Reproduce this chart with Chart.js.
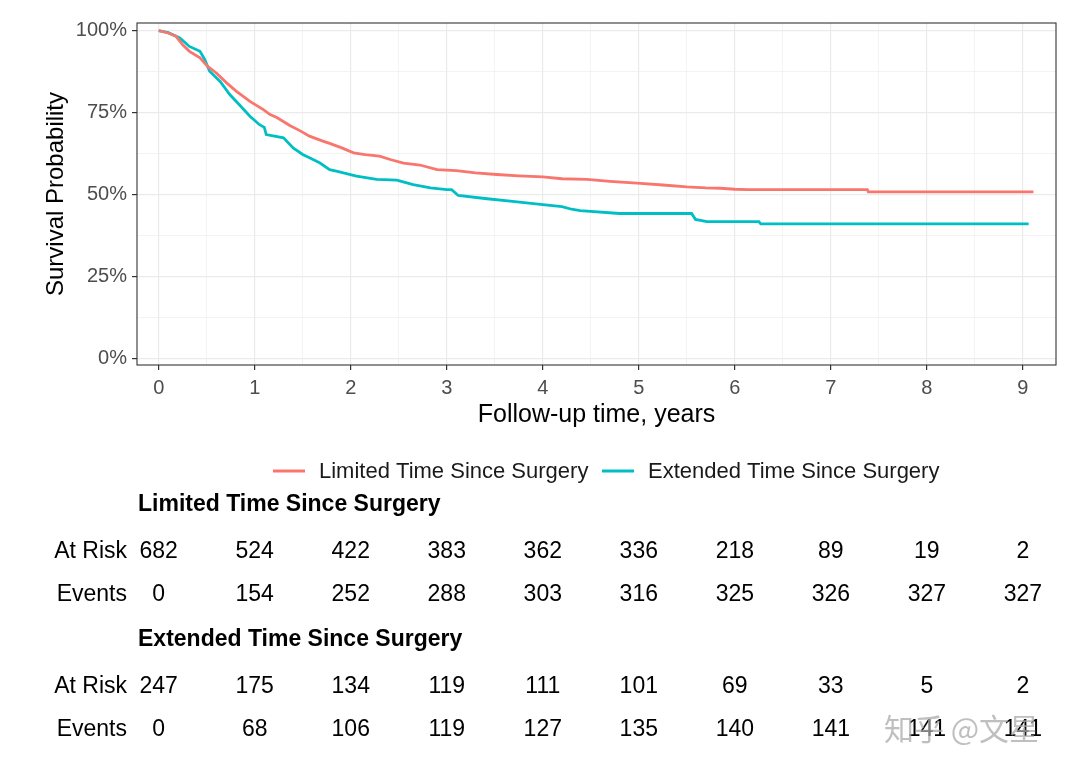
<!DOCTYPE html>
<html>
<head>
<meta charset="utf-8">
<title>Survival by time since surgery</title>
<script src="https://cdn.jsdelivr.net/npm/chart.js@4.4.1/dist/chart.umd.min.js"></script>
<style>
    html, body { margin: 0; padding: 0; background: #ffffff; }
    #wrap { width: 1080px; height: 771px; position: relative; }
</style>
</head>
<body>
<div id="wrap"><canvas id="kmChart"></canvas></div>
<script>
// Kaplan-Meier estimates (time in years, survival in %)
// a repeated time marks a visible drop in the curve
const limitedTime = [0, 0.1, 0.18, 0.25, 0.32, 0.43, 0.51, 0.6, 0.71, 0.81, 0.95, 1.09, 1.16, 1.23, 1.37, 1.47, 1.57, 1.71, 1.78, 1.9, 2.03, 2.15, 2.3, 2.42, 2.55, 2.72, 2.9, 3.1, 3.3, 3.52, 3.75, 4.0, 4.2, 4.46, 4.7, 5.02, 5.25, 5.5, 5.7, 5.85, 6.0, 6.13, 7.38, 7.39, 9.11];
const limitedSurv = [100, 99.3, 98.3, 95.7, 93.7, 91.7, 89.1, 87.1, 84.0, 81.5, 78.4, 75.9, 74.4, 73.5, 71.0, 69.5, 67.8, 66.3, 65.6, 64.3, 62.7, 62.2, 61.7, 60.6, 59.6, 59.0, 57.6, 57.3, 56.6, 56.1, 55.7, 55.4, 54.8, 54.6, 54.0, 53.4, 52.9, 52.3, 52.0, 51.9, 51.6, 51.5, 51.5, 50.8, 50.8];

const extendedTime = [0, 0.1, 0.22, 0.32, 0.43, 0.48, 0.53, 0.64, 0.74, 0.84, 0.95, 1.05, 1.1, 1.12, 1.3, 1.4, 1.5, 1.57, 1.68, 1.78, 1.85, 2.06, 2.27, 2.48, 2.65, 2.83, 3.0, 3.05, 3.12, 3.42, 3.66, 4.0, 4.2, 4.3, 4.39, 4.8, 5.55, 5.59, 5.71, 6.25, 6.27, 9.06];
const extendedSurv = [100, 99.4, 97.8, 95.2, 93.7, 91.2, 87.6, 84.5, 80.5, 77.4, 73.9, 71.3, 70.5, 68.3, 67.3, 64.2, 62.2, 61.2, 59.6, 57.6, 57.1, 55.6, 54.6, 54.4, 53.0, 52.0, 51.5, 51.5, 49.7, 48.7, 48.0, 46.9, 46.3, 45.5, 45.1, 44.2, 44.2, 42.4, 41.7, 41.7, 41.0, 41.0];

// Axes
const yearTicks = [0, 1, 2, 3, 4, 5, 6, 7, 8, 9];
const percentTicks = [0, 25, 50, 75, 100];
const percentLabels = ['0%', '25%', '50%', '75%', '100%'];

// Risk table
const groupNames = ['Limited Time Since Surgery', 'Extended Time Since Surgery'];
const limitedAtRisk = [682, 524, 422, 383, 362, 336, 218, 89, 19, 2];
const limitedEvents = [0, 154, 252, 288, 303, 316, 325, 326, 327, 327];
const extendedAtRisk = [247, 175, 134, 119, 111, 101, 69, 33, 5, 2];
const extendedEvents = [0, 68, 106, 119, 127, 135, 140, 141, 141, 141];

const RED = '#F8766D';
const CYAN = '#00BFC4';
const FONT = '"Liberation Sans", Arial, sans-serif';

function toPoints(xs, ys) {
    return xs.map((x, i) => ({ x: x, y: ys[i] }));
}

// major ticks plus half-way minor lines
const xAllTicks = [];
yearTicks.forEach(v => { xAllTicks.push(v); xAllTicks.push(v + 0.5); });
const yAllTicks = [];
percentTicks.forEach((v, i) => { yAllTicks.push(v); if (i < percentTicks.length - 1) yAllTicks.push(v + 12.5); });

// Panel border, legend and the number-at-risk table
const extrasPlugin = {
    id: 'extras',
    afterDatasetsDraw(chart) {
        const ctx = chart.ctx;
        const a = chart.chartArea;
        ctx.save();
        ctx.strokeStyle = '#333333';
        ctx.lineWidth = 1.1;
        ctx.strokeRect(a.left, a.top, a.right - a.left, a.bottom - a.top);
        ctx.restore();
    },
    afterDraw(chart) {
        const ctx = chart.ctx;
        const xs = chart.scales.x;
        ctx.save();

        // legend
        ctx.font = '22px ' + FONT;
        ctx.textBaseline = 'middle';
        ctx.textAlign = 'left';
        const legY = 471;
        const items = [
            { color: RED, label: groupNames[0], x: 273 },
            { color: CYAN, label: groupNames[1], x: 602 }
        ];
        items.forEach(it => {
            ctx.strokeStyle = it.color;
            ctx.lineWidth = 3;
            ctx.beginPath();
            ctx.moveTo(it.x, legY);
            ctx.lineTo(it.x + 32, legY);
            ctx.stroke();
            ctx.fillStyle = '#1a1a1a';
            ctx.fillText(it.label, it.x + 46, legY + 1);
        });

        // table
        const blocks = [
            { title: groupNames[0], titleY: 505, rows: [['At Risk', limitedAtRisk, 552], ['Events', limitedEvents, 595]] },
            { title: groupNames[1], titleY: 640, rows: [['At Risk', extendedAtRisk, 687], ['Events', extendedEvents, 730]] }
        ];
        blocks.forEach(b => {
            ctx.font = 'bold 23px ' + FONT;
            ctx.textAlign = 'left';
            ctx.fillStyle = '#000000';
            ctx.fillText(b.title, 138, b.titleY);
            b.rows.forEach(r => {
                ctx.font = '23px ' + FONT;
                ctx.textAlign = 'right';
                ctx.fillText(r[0], 127, r[2]);
                ctx.textAlign = 'center';
                r[1].forEach((v, i) => {
                    ctx.fillText(String(v), xs.getPixelForValue(yearTicks[i]), r[2]);
                });
            });
        });

        // watermark
        ctx.font = '30px "Noto Sans CJK SC", sans-serif';
        ctx.textAlign = 'left';
        ctx.fillStyle = 'rgba(170, 170, 170, 0.75)';
        ctx.fillText('知乎 @文星', 884, 729);
        ctx.restore();
    }
};

document.addEventListener('DOMContentLoaded', function() {
    const ctx = document.getElementById('kmChart').getContext('2d');

    new Chart(ctx, {
        type: 'line',
        data: {
            datasets: [
                {
                    label: groupNames[0],
                    data: toPoints(limitedTime, limitedSurv),
                    borderColor: RED,
                    borderWidth: 2.8,
                    tension: 0,
                    pointRadius: 0,
                    fill: false
                },
                {
                    label: groupNames[1],
                    data: toPoints(extendedTime, extendedSurv),
                    borderColor: CYAN,
                    borderWidth: 2.8,
                    tension: 0,
                    pointRadius: 0,
                    fill: false
                }
            ]
        },
        options: {
            responsive: true,
            maintainAspectRatio: false,
            animation: false,
            layout: {
                padding: { left: 42, top: 23, right: 24, bottom: 341 }
            },
            plugins: {
                legend: { display: false },
                tooltip: { enabled: false }
            },
            scales: {
                x: {
                    type: 'linear',
                    min: -0.226,
                    max: 9.345,
                    afterBuildTicks: function(scale) {
                        scale.ticks = xAllTicks.filter(v => v <= scale.max).map(v => ({ value: v }));
                    },
                    afterFit: function(scale) {
                        scale.height = 65;
                    },
                    grid: {
                        color: '#ebebeb',
                        lineWidth: c => (c.tick && c.tick.value % 1 === 0 ? 1.2 : 0.6),
                        tickColor: c => (c.tick && c.tick.value % 1 === 0 ? '#333333' : 'rgba(0,0,0,0)'),
                        tickLength: 5,
                        drawTicks: true
                    },
                    border: { display: false },
                    ticks: {
                        autoSkip: false,
                        maxRotation: 0,
                        padding: 6,
                        color: '#4d4d4d',
                        font: { family: FONT, size: 20 },
                        callback: function(value) {
                            return value % 1 === 0 ? String(value) : '';
                        }
                    },
                    title: {
                        display: true,
                        text: 'Follow-up time, years',
                        color: '#000000',
                        font: { family: FONT, size: 25 },
                        padding: { top: 0, bottom: 0 }
                    }
                },
                y: {
                    min: -2.05,
                    max: 102.35,
                    afterBuildTicks: function(scale) {
                        scale.ticks = yAllTicks.map(v => ({ value: v }));
                    },
                    afterFit: function(scale) {
                        scale.width = 95;
                    },
                    grid: {
                        color: '#ebebeb',
                        lineWidth: c => (c.tick && c.tick.value % 25 === 0 ? 1.2 : 0.6),
                        tickColor: c => (c.tick && c.tick.value % 25 === 0 ? '#333333' : 'rgba(0,0,0,0)'),
                        tickLength: 5,
                        drawTicks: true
                    },
                    border: { display: false },
                    ticks: {
                        autoSkip: false,
                        padding: 5,
                        color: '#4d4d4d',
                        font: { family: FONT, size: 20 },
                        callback: function(value) {
                            const i = percentTicks.indexOf(value);
                            return i >= 0 ? percentLabels[i] : '';
                        }
                    },
                    title: {
                        display: true,
                        text: 'Survival Probability',
                        color: '#000000',
                        font: { family: FONT, size: 24 },
                        padding: { top: 0, bottom: 0 }
                    }
                }
            }
        },
        plugins: [extrasPlugin]
    });
});
</script>
</body>
</html>
